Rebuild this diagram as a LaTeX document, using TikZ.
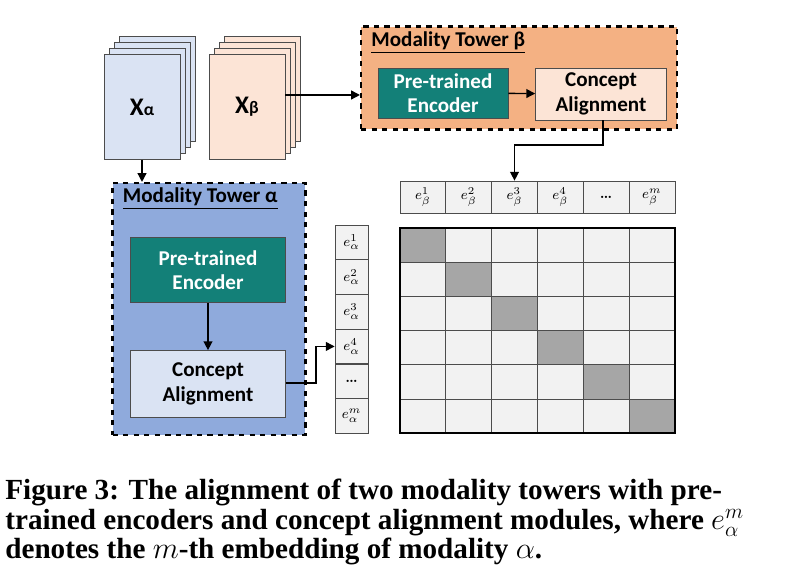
\documentclass[tikz,border=0pt]{standalone}
\usepackage{fontspec}
\setsansfont{Carlito}
\newfontfamily\capfont{Liberation Serif}
\usetikzlibrary{positioning,arrows.meta}
\definecolor{towerb}{RGB}{244,177,131}
\definecolor{towera}{RGB}{143,170,220}
\definecolor{teal}{RGB}{19,128,120}
\definecolor{alignb}{RGB}{252,228,214}
\definecolor{aligna}{RGB}{218,227,243}
\definecolor{pagea}{RGB}{218,227,243}
\definecolor{pageb}{RGB}{252,228,214}
\definecolor{cellc}{RGB}{242,242,242}
\definecolor{diagc}{RGB}{166,166,166}
\tikzset{
  tower/.style={draw, very thick, dashed, inner sep=0pt},
  encoder/.style={draw=black!70, fill=teal, text=white, font=\sffamily\bfseries\large, align=center, inner sep=0pt},
  aligner/.style={draw=black!70, font=\sffamily\bfseries\large, align=center, inner sep=0pt},
  page/.style={draw=black!70, inner sep=0pt, minimum width=1.52cm, minimum height=2.1cm},
  cellbox/.style={draw=black!70, fill=cellc, inner sep=0pt, minimum width=0.92cm, minimum height=0.68cm},
  flow/.style={-{Triangle[length=5pt,width=5pt]}, thick},
}
\begin{document}
\begin{tikzpicture}[x=0.02cm,y=-0.02cm]
\useasboundingbox (0,0) rectangle (794,577);

% input stacks
\foreach \k in {3,2,1}{
  \node[page, fill=pagea] at (142+5*\k,107-6*\k) {};
  \node[page, fill=pageb] at (247+5*\k,107-6*\k) {};
}
\node[page, fill=pagea, font=\sffamily\bfseries\Large] (xa) at (142,107) {X{\normalsize α}};
\node[page, fill=pageb, font=\sffamily\bfseries\Large] (xb) at (247,107) {X{\normalsize β}};

% tower beta
\node[tower, fill=towerb, minimum width=6.32cm, minimum height=2.06cm] (tb) at (519,78) {};
\node[anchor=north west, font=\sffamily\bfseries\large] at ([xshift=3pt]tb.north west) {\underline{Modality Tower β}};
\node[encoder, minimum width=2.6cm, minimum height=1cm] (encb) at (443,93) {Pre-trained\\Encoder};
\node[aligner, fill=alignb, minimum width=2.62cm, minimum height=1.04cm] (alb) at (601,94) {Concept\\Alignment};
\draw[flow] (xb.east |- 0,95) -- (tb.west |- 0,95);
\draw[flow] (encb) -- (alb);

% tower alpha
\node[tower, fill=towera, minimum width=3.86cm, minimum height=5.04cm] (ta) at (209,309) {};
\node[anchor=north west, font=\sffamily\bfseries\large] at ([xshift=3pt]ta.north west) {\underline{Modality Tower α}};
\node[encoder, minimum width=3.1cm, minimum height=1.3cm] (enca) at (208,270) {Pre-trained\\Encoder};
\node[aligner, fill=aligna, minimum width=3.1cm, minimum height=1.34cm] (ala) at (208,384) {Concept\\Alignment};
\draw[flow] (xa.south -| 142,0) -- (ta.north -| 142,0);
\draw[flow] (enca) -- (ala);

% embeddings beta
\foreach \j/\t in {1/$e_\beta^1$,2/$e_\beta^2$,3/$e_\beta^3$,4/$e_\beta^4$,5/\textbf{\dots},6/$e_\beta^m$}
  \node[cellbox, minimum height=0.64cm, font=\footnotesize] (eb\j) at (400+45.8*\j-22.9,197) {\t};
% embeddings alpha
\foreach \i/\t in {1/$e_\alpha^1$,2/$e_\alpha^2$,3/$e_\alpha^3$,4/$e_\alpha^4$,5/\textbf{\dots},6/$e_\alpha^m$}
  \node[cellbox, minimum width=0.66cm, minimum height=0.69cm, font=\footnotesize] (ea\i) at (351.5,225+34.7*\i-17.35) {\t};

% similarity grid
\foreach \i in {1,...,6}
  \foreach \j in {1,...,6}{
    \ifnum\i=\j
      \node[cellbox, fill=diagc, minimum height=0.69cm] (g\i\j) at (400+45.8*\j-22.9,228+34.2*\i-17.1) {};
    \else
      \node[cellbox, minimum height=0.69cm] (g\i\j) at (400+45.8*\j-22.9,228+34.2*\i-17.1) {};
    \fi
  }
\draw[thick] (400,228) rectangle (675,433);

% connectors to embeddings
\coordinate (tb1) at (603,145);
\coordinate (ta1) at (316,383);
\draw[flow] (alb.south -| tb1) -- (tb1) -| (eb3.north);
\draw[flow] (ala.east |- ta1) -- (ta1) |- (ea4.west);

% caption
\node[anchor=north west, align=left, font=\capfont\bfseries\fontsize{16.6}{16.8}\selectfont, inner sep=0pt] (cap) at (5,479)
  {Figure 3: The alignment of two modality towers with pre-\\trained encoders and concept alignment modules, where $e_\alpha^m$\\denotes the $m$-th embedding of modality $\alpha$.};
\end{tikzpicture}
\end{document}
